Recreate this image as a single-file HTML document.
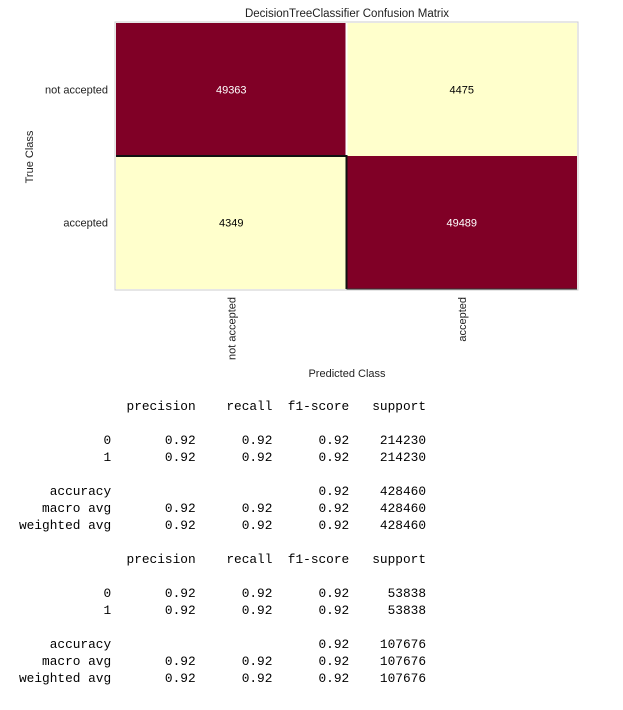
<!DOCTYPE html>
<html><head><meta charset="utf-8"><style>
body{margin:0;width:623px;height:710px;background:#fff;overflow:hidden;position:relative;font-family:"Liberation Sans",sans-serif}
svg{position:absolute;left:0;top:0}
pre{position:absolute;left:19px;top:398px;margin:0;font-family:"Liberation Mono",monospace;font-size:12.8px;line-height:17px;color:#000}
</style></head><body>
<svg id="chart" width="623" height="380"></svg>
<pre>              precision    recall  f1-score   support

           0       0.92      0.92      0.92    214230
           1       0.92      0.92      0.92    214230

    accuracy                           0.92    428460
   macro avg       0.92      0.92      0.92    428460
weighted avg       0.92      0.92      0.92    428460

              precision    recall  f1-score   support

           0       0.92      0.92      0.92     53838
           1       0.92      0.92      0.92     53838

    accuracy                           0.92    107676
   macro avg       0.92      0.92      0.92    107676
weighted avg       0.92      0.92      0.92    107676
</pre>
<script>
const classes = ["not accepted", "accepted"];
const rowNotAccepted = [49363, 4475];
const rowAccepted = [4349, 49489];
const matrix = [rowNotAccepted, rowAccepted];

const NS = "http://www.w3.org/2000/svg";
const svg = document.getElementById("chart");
const L = 116, R = 577, T = 23, B = 289;
const n = classes.length;
const cw = (R - L) / n, ch = (B - T) / n;
const xPos = i => L + i * cw;
const yPos = i => T + i * ch;
const maxV = Math.max(...matrix.flat());
const minV = Math.min(...matrix.flat());
function el(tag, attrs, text) {
  const e = document.createElementNS(NS, tag);
  for (const k in attrs) e.setAttribute(k, attrs[k]);
  if (text !== undefined) e.textContent = text;
  svg.appendChild(e);
  return e;
}
function color(v) {
  const t = (v - minV) / (maxV - minV);
  return t > 0.5 ? "#800026" : "#ffffcc";
}
const title = el("text", {x: 347, y: 17, "text-anchor": "middle", "font-size": "11.5", fill: "#222"}, "DecisionTreeClassifier Confusion Matrix");


el("rect", {x: L - 1, y: T - 1, width: R - L + 2, height: B - T + 2, fill: "none", stroke: "#ccc"});
for (let r = 0; r < n; r++) {
  for (let c = 0; c < n; c++) {
    const v = matrix[r][c];
    const cell = el("rect", {x: xPos(c), y: yPos(r), width: cw, height: ch, fill: color(v)});
    
    
    const t = el("text", {x: xPos(c) + cw / 2, y: yPos(r) + ch / 2 + 4, "text-anchor": "middle", "font-size": "11", fill: color(v) === "#800026" ? "#fff" : "#000"}, String(v));
    
    
  }
}
el("line", {x1: xPos(1), y1: T, x2: xPos(1), y2: yPos(1), stroke: "#fff", "stroke-width": 2});
el("line", {x1: L, y1: yPos(1), x2: xPos(1) + 1, y2: yPos(1), stroke: "#111", "stroke-width": 2});
el("line", {x1: xPos(1), y1: yPos(1), x2: xPos(1), y2: B, stroke: "#111", "stroke-width": 2});
el("line", {x1: xPos(1), y1: B, x2: R, y2: B, stroke: "#333", "stroke-width": 1});
classes.forEach((c, i) => {
  const yl = el("text", {x: 108, y: yPos(i) + ch / 2 + 4, "text-anchor": "end", "font-size": "11", fill: "#222"}, c);
  
  
  const cx = xPos(i) + cw / 2 + 4;
  const xl = el("text", {x: cx, y: 297, "text-anchor": "end", "font-size": "11", fill: "#222", transform: `rotate(-90 ${cx} 297)`}, c);
  
  
});
const yt = el("text", {x: 33, y: 157, "text-anchor": "middle", "font-size": "11", fill: "#222", transform: "rotate(-90 33 157)"}, "True Class");


const xt = el("text", {x: 347, y: 377, "text-anchor": "middle", "font-size": "11", fill: "#222"}, "Predicted Class");


</script>
</body></html>
